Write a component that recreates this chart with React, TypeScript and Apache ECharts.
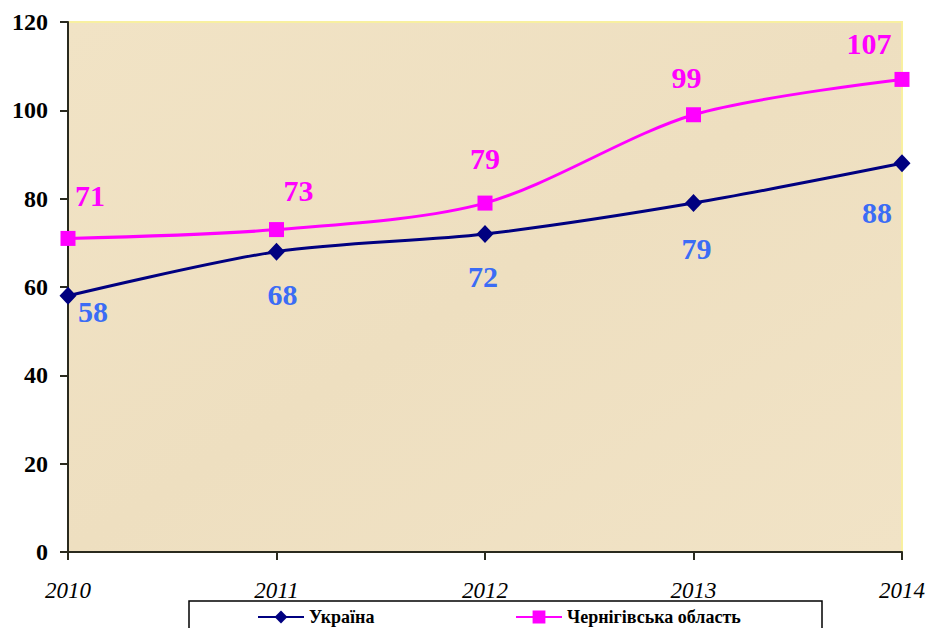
import React, { useEffect, useRef } from "react";
import * as echarts from "echarts";

const years = ["2010", "2011", "2012", "2013", "2014"];
const ukraine = [58, 68, 72, 79, 88];
const chernihiv = [71, 73, 79, 99, 107];
const yTicks = { min: 0, max: 120, interval: 20 };

// label offsets (style only)
const ukrOffsets = [[25, 16], [6, 43], [-2, 42], [3, 45], [-25, 49]];
const cheOffsets = [[22, -43], [22, -39], [0, -45], [-7, -37], [-33, -36]];

const SERIF = "'Liberation Serif', 'Times New Roman', Times, serif";

export default function App() {
  const ref = useRef<HTMLDivElement>(null);
  useEffect(() => {
    const chart = echarts.init(ref.current!, null, { renderer: "svg" });
    const mkLabel = (color: string, offs: number[][]) => (v: number, i: number) => ({
      value: v,
      label: {
        show: true,
        position: "inside",
        offset: offs[i],
        color,
        fontFamily: SERIF,
        fontWeight: "bold",
        fontSize: 30,
      },
    });
    chart.setOption({
      animation: false,
      backgroundColor: "#ffffff",
      textStyle: { fontFamily: SERIF },
      grid: {
        left: 68,
        right: 24,
        top: 22,
        bottom: 76,
        show: true,
        borderColor: "#f8f0a0",
        borderWidth: 2,
        backgroundColor: {
          type: "linear",
          x: 0, y: 0, x2: 1, y2: 1,
          colorStops: [
            { offset: 0, color: "#f1e3c5" },
            { offset: 0.5, color: "#eedfc0" },
            { offset: 1, color: "#f1e3c6" },
          ],
        },
      },
      graphic: [
        {
          type: "rect",
          shape: { x: 189, y: 601, width: 633, height: 40 },
          style: { fill: "#ffffff", stroke: "#000000", lineWidth: 1.5 },
          z: -1,
        },
      ],
      legend: [
        {
          data: ["Україна"],
          left: 257,
          top: 608,
          padding: 0,
          itemWidth: 46,
          itemHeight: 16,
          textStyle: { fontFamily: SERIF, fontWeight: "bold", fontSize: 18, color: "#000" },
        },
        {
          data: ["Чернігівська область"],
          left: 515,
          top: 608,
          padding: 0,
          itemWidth: 46,
          itemHeight: 16,
          textStyle: { fontFamily: SERIF, fontWeight: "bold", fontSize: 18, color: "#000" },
        },
      ],
      xAxis: {
        type: "category",
        data: years,
        boundaryGap: false,
        axisLine: { lineStyle: { color: "#2a2a1e", width: 2 } },
        axisTick: { show: true, length: 8, lineStyle: { color: "#2a2a1e", width: 2 } },
        axisLabel: {
          margin: 27,
          fontFamily: SERIF,
          fontStyle: "italic",
          fontSize: 23,
          color: "#000",
        },
        splitLine: { show: false },
      },
      yAxis: {
        type: "value",
        min: yTicks.min,
        max: yTicks.max,
        interval: yTicks.interval,
        axisLine: { show: true, lineStyle: { color: "#2a2a1e", width: 2 } },
        axisTick: { show: true, length: 8, lineStyle: { color: "#2a2a1e", width: 2 } },
        axisLabel: {
          margin: 20,
          fontFamily: SERIF,
          fontWeight: "bold",
          fontSize: 24,
          color: "#000",
        },
        splitLine: { show: false },
      },
      series: [
        {
          name: "Україна",
          type: "line",
          smooth: 0.3,
          data: ukraine.map(mkLabel("#3b6cf5", ukrOffsets)),
          symbol: "diamond",
          symbolSize: [17, 18],
          lineStyle: { color: "#000080", width: 3 },
          itemStyle: { color: "#000080" },
          z: 3,
        },
        {
          name: "Чернігівська область",
          type: "line",
          smooth: 0.3,
          data: chernihiv.map(mkLabel("#ff00ff", cheOffsets)),
          symbol: "rect",
          symbolSize: 15,
          lineStyle: { color: "#ff00ff", width: 3 },
          itemStyle: { color: "#ff00ff" },
          z: 3,
        },
      ],
    });
    return () => chart.dispose();
  }, []);
  return (
    <div
      ref={ref}
      style={{ position: "fixed", left: 0, top: 0, width: 928, height: 628 }}
    />
  );
}
